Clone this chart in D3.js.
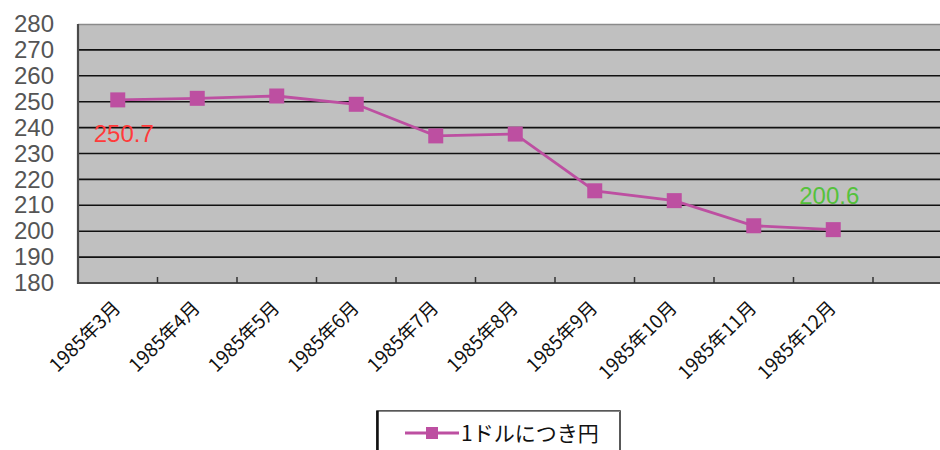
<!DOCTYPE html>
<html>
<head>
<meta charset="utf-8">
<script src="https://cdn.jsdelivr.net/npm/d3@7/dist/d3.min.js"></script>
<style>
  html, body { margin: 0; padding: 0; background: #fff; }
  svg { display: block; }
</style>
</head>
<body>
<svg id="chart" width="940" height="450"></svg>
<script>
// Yen per US dollar, monthly, 1985
const months = ["1985年3月", "1985年4月", "1985年5月", "1985年6月", "1985年7月",
                "1985年8月", "1985年9月", "1985年10月", "1985年11月", "1985年12月"];
const yenPerDollar = [250.7, 251.3, 252.2, 249.0, 236.8, 237.5, 215.6, 211.8, 202.1, 200.6];
const yTicks = [180, 190, 200, 210, 220, 230, 240, 250, 260, 270, 280];
const seriesName = "1ドルにつき円";
// Values called out on the chart: [month index, colour]
const callouts = [[0, "#ff3b3b"], [9, "#55c23c"]];

const svg = d3.select("#chart");
const W = 940;
const plot = { left: 78, top: 24, bottom: 283 };
const step = 79.5;
const lineColor = "#bd4fa1";

const x = d3.scaleBand().domain(months).range([plot.left, plot.left + step * months.length]).padding(0);
const y = d3.scaleLinear().domain([180, 280]).range([plot.bottom, plot.top]);

// plot background (extends past the last category slot)
svg.append("rect")
  .attr("x", plot.left).attr("y", plot.top)
  .attr("width", W - plot.left + 10).attr("height", plot.bottom - plot.top)
  .attr("fill", "#c0c0c0");

// top border
svg.append("line")
  .attr("x1", plot.left).attr("x2", W)
  .attr("y1", plot.top + 0.5).attr("y2", plot.top + 0.5)
  .attr("stroke", "#8a8a8a").attr("stroke-width", 1.5);

// horizontal gridlines
svg.append("g").selectAll("line")
  .data(yTicks.filter(d => d > 180 && d < 280))
  .join("line")
  .attr("x1", plot.left).attr("x2", W)
  .attr("y1", d => y(d)).attr("y2", d => y(d))
  .attr("stroke", "#111").attr("stroke-width", 1.6);

// y axis labels
const yAxis = d3.axisLeft(y).tickValues(yTicks).tickSize(0).tickPadding(24).tickFormat(d3.format("d"));
const gy = svg.append("g").attr("transform", `translate(${plot.left},0)`).call(yAxis);
gy.select(".domain").remove();
gy.selectAll("text")
  .attr("font-family", "'Liberation Sans', Arial, sans-serif")
  .attr("font-size", 24)
  .attr("fill", "#555");

// axis lines
svg.append("line")
  .attr("x1", plot.left).attr("x2", plot.left)
  .attr("y1", plot.top).attr("y2", plot.bottom + 1)
  .attr("stroke", "#4a4a4a").attr("stroke-width", 2.2);
svg.append("line")
  .attr("x1", plot.left).attr("x2", W)
  .attr("y1", plot.bottom).attr("y2", plot.bottom)
  .attr("stroke", "#4a4a4a").attr("stroke-width", 2.2);

// x ticks at category boundaries (inward)
const boundaries = d3.range(1, months.length + 2).map(i => plot.left + step * i);
svg.append("g").selectAll("line")
  .data(boundaries)
  .join("line")
  .attr("x1", d => d).attr("x2", d => d)
  .attr("y1", plot.bottom).attr("y2", plot.bottom - 6)
  .attr("stroke", "#333").attr("stroke-width", 1.5);

// x category labels
svg.append("g").selectAll("text")
  .data(months)
  .join("text")
  .attr("transform", d => `translate(${x(d) + x.bandwidth() / 2 + 4},${plot.bottom + 26}) rotate(-45)`)
  .attr("text-anchor", "end")
  .attr("font-family", "'Noto Sans CJK JP', sans-serif")
  .attr("font-size", 19)
  .attr("fill", "#111")
  .text(d => d);

// series line
const line = d3.line()
  .x((d, i) => x(months[i]) + x.bandwidth() / 2)
  .y(d => y(d));
svg.append("path")
  .datum(yenPerDollar)
  .attr("d", line)
  .attr("fill", "none")
  .attr("stroke", lineColor)
  .attr("stroke-width", 2.8);

// markers
const m = 15;
svg.append("g").selectAll("rect")
  .data(yenPerDollar)
  .join("rect")
  .attr("x", (d, i) => x(months[i]) + x.bandwidth() / 2 - m / 2)
  .attr("y", d => y(d) - m / 2)
  .attr("width", m).attr("height", m)
  .attr("fill", lineColor);

// value callouts
svg.append("g").selectAll("text")
  .data(callouts)
  .join("text")
  .attr("x", ([i]) => x(months[i]) + x.bandwidth() / 2 + (i === 0 ? -24 : -34))
  .attr("y", ([i]) => y(yenPerDollar[i]) + (i === 0 ? 42 : -26))
  .attr("text-anchor", "start")
  .attr("font-family", "'Liberation Sans', Arial, sans-serif")
  .attr("font-size", 24)
  .attr("fill", ([, c]) => c)
  .text(([i]) => yenPerDollar[i].toFixed(1));

// legend
const lg = svg.append("g").attr("transform", "translate(377,411)");
lg.append("rect")
  .attr("x", 0).attr("y", 0).attr("width", 243).attr("height", 50)
  .attr("fill", "#fff").attr("stroke", "#222").attr("stroke-width", 1.5);
lg.append("line")
  .attr("x1", 0).attr("x2", 243).attr("y1", 0.5).attr("y2", 0.5)
  .attr("stroke", "#888").attr("stroke-width", 1);
lg.append("line")
  .attr("x1", 0.5).attr("x2", 0.5).attr("y1", 0).attr("y2", 50)
  .attr("stroke", "#111").attr("stroke-width", 2.5);
lg.append("line")
  .attr("x1", 28).attr("x2", 82).attr("y1", 22).attr("y2", 22)
  .attr("stroke", lineColor).attr("stroke-width", 2.8);
lg.append("rect")
  .attr("x", 55 - 6).attr("y", 22 - 6).attr("width", 12).attr("height", 12)
  .attr("fill", lineColor);
lg.append("text")
  .attr("x", 84).attr("y", 30)
  .attr("font-family", "'Noto Sans CJK JP', sans-serif")
  .attr("font-size", 21)
  .attr("fill", "#111")
  .text(seriesName);
</script>
</body>
</html>
